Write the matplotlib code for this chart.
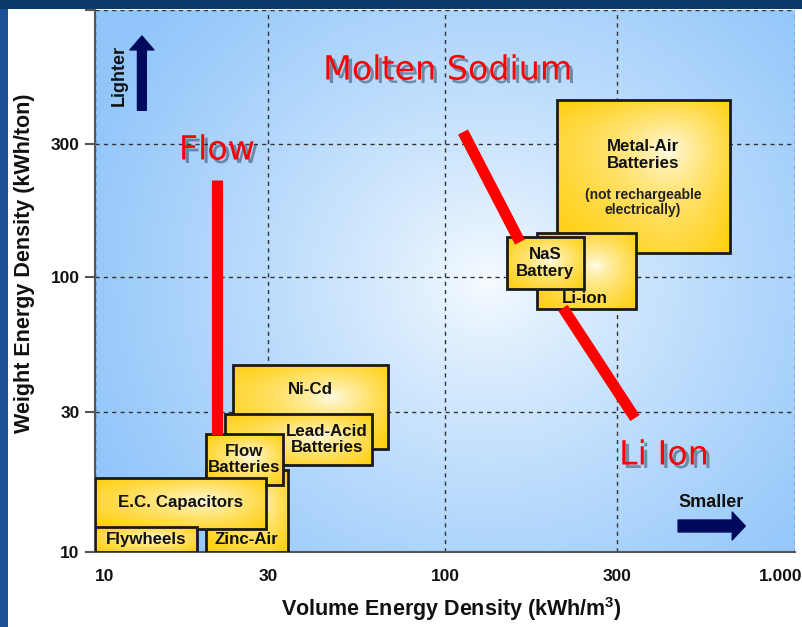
import numpy as np
import matplotlib.pyplot as plt
import matplotlib.patheffects as pe
import matplotlib.transforms as mtransforms
from matplotlib.patches import Rectangle

plt.rcParams['mathtext.fontset'] = 'custom'
plt.rcParams['mathtext.rm'] = 'Liberation Sans:bold'
plt.rcParams['mathtext.default'] = 'rm'

# boxes: volume (kWh/m3) range and weight (kWh/ton) range
box_labels = ['Metal-Air\nBatteries', 'Li-ion', 'NaS\nBattery', 'Ni-Cd',
              'Lead-Acid\nBatteries', 'Zinc-Air', 'Flow\nBatteries',
              'E.C. Capacitors', 'Flywheels']
vol_lo = [204.5, 179.9, 148.6, 24.0, 22.8, 20.2, 20.2, 10, 10]
vol_hi = [644, 341, 243, 67.9, 60.9, 34.4, 33.2, 29.6, 19.1]
wt_lo = [121.9, 75.2, 89.9, 22.4, 19.8, 10, 16.9, 12.0, 10]
wt_hi = [445.4, 143.8, 139.2, 45.6, 29.5, 19.0, 25.2, 17.9, 12.2]
label_x = [357.6, 244.5, 189.4, 39.9, 44.8, 26.2, 25.8, 17.2, 13.8]
label_y = [274, 82.2, 112.2, 36.5, 24.1, 11.0, 20.6, 14.7, 11.0]

metal_air_note = '(not rechargeable\nelectrically)'
note_x, note_y = 357.6, 185

# red highlight lines
flow_x = [21.7, 21.7]
flow_y = [222.8, 25.0]
sodium_x = [112.2, 161.4]
sodium_y = [334, 133.5]
liion_x = [212.4, 338.8]
liion_y = [75.9, 28.6]

red_texts = ['Flow', 'Molten Sodium', 'Li Ion']
red_text_x = [21.7, 101.9, 412]
red_text_y = [285.4, 583, 21.4]

xticks = [10, 30, 100, 300, 1000]
xtick_labels = ['10', '30', '100', '300', '1.000']
yticks = [10, 30, 100, 300, 1000]
ytick_labels = ['10', '30', '100', '300', '']

# the original axes space the ticks almost evenly, not in true log steps
x_knots_log = [1, 1.477, 2, 2.477, 3]
x_knots_pos = [0, 173, 350, 522, 700]
y_knots_log = [1, 1.477, 2, 2.477, 3]
y_knots_pos = [0, 140, 275, 408, 542]


def make_scale(logs, pos):
    lo_slope = (pos[1] - pos[0]) / (logs[1] - logs[0])
    hi_slope = (pos[-1] - pos[-2]) / (logs[-1] - logs[-2])
    lg = [logs[0] - 20] + logs + [logs[-1] + 20]
    ps = [pos[0] - 20 * lo_slope] + pos + [pos[-1] + 20 * hi_slope]

    def fwd(v):
        v = np.clip(np.asarray(v, dtype=float), 1e-20, None)
        return np.interp(np.log10(v), lg, ps)

    def inv(p):
        return 10 ** np.interp(np.asarray(p, dtype=float), ps, lg)

    return fwd, inv


def radial(edge, center, n=200, cx=0.5, cy=0.5, rx=0.5, ry=0.5, power=1.0):
    yy, xx = np.mgrid[0:1:n * 1j, 0:1:n * 1j]
    r = np.sqrt(((xx - cx) / rx) ** 2 + ((yy - cy) / ry) ** 2)
    t = np.clip(r, 0, 1) ** power
    edge = np.array(edge) / 255.0
    center = np.array(center) / 255.0
    return center * (1 - t[..., None]) + edge * t[..., None]


fig = plt.figure(figsize=(8.02, 6.27), dpi=100, facecolor='white')
fig.patches.append(Rectangle((0, 0), 8 / 802, 1, transform=fig.transFigure,
                             facecolor='#1c4f93', edgecolor='none', zorder=-5))
fig.patches.append(Rectangle((0, 618 / 627), 1, 9 / 627, transform=fig.transFigure,
                             facecolor='#0c3a6b', edgecolor='none', zorder=-5))

ax = fig.add_axes([95 / 802, 75 / 627, 700 / 802, 542 / 627])
ax.set_xscale('function', functions=make_scale(x_knots_log, x_knots_pos))
ax.set_yscale('function', functions=make_scale(y_knots_log, y_knots_pos))
ax.set_xlim(10, 1000)
ax.set_ylim(10, 1000)

# blue background with light centre
bg = radial((146, 198, 250), (248, 252, 255), cx=0.56, cy=0.5, rx=0.62, ry=0.75, power=0.8)
ax.imshow(bg, extent=[0, 1, 0, 1], transform=ax.transAxes, origin='lower',
          aspect='auto', zorder=0, interpolation='bilinear')

ax.grid(True, which='major', color='#333333', linestyle=(0, (3, 3)), linewidth=1, zorder=1)
ax.set_axisbelow(True)

box_img = radial((255, 204, 0), (255, 253, 240), cx=0.5, cy=0.5, rx=0.75, ry=0.75, power=0.7)
for i in range(len(box_labels)):
    z = 3 + i
    rect = Rectangle((vol_lo[i], wt_lo[i]), vol_hi[i] - vol_lo[i], wt_hi[i] - wt_lo[i],
                     facecolor='none', edgecolor='#1a1a1a', linewidth=2, zorder=z + 0.5)
    ax.add_patch(rect)
    im = ax.imshow(box_img, extent=[vol_lo[i], vol_hi[i], wt_lo[i], wt_hi[i]],
                   origin='lower', aspect='auto', zorder=z, interpolation='bilinear')
    im.set_clip_path(rect)
    ax.text(label_x[i], label_y[i], box_labels[i], ha='center', va='center',
            fontsize=12.2, fontweight='bold', family='Liberation Sans',
            color='#111111', zorder=z + 0.6, linespacing=1.1)

ax.text(note_x, note_y, metal_air_note, ha='center', va='center', fontsize=10,
        fontweight='bold', family='Liberation Sans', color='#222222', zorder=4, linespacing=1.1)

for xs, ys in [(flow_x, flow_y), (sodium_x, sodium_y), (liion_x, liion_y)]:
    ax.plot(xs, ys, color='#ff0000', linewidth=8, solid_capstyle='butt', zorder=20)

shadow = [pe.withSimplePatchShadow(offset=(2.5, -2.5), shadow_rgbFace='#1a2a40', alpha=0.45)]
for t, x, y in zip(red_texts, red_text_x, red_text_y):
    ax.text(x, y, t, ha='center', va='center', fontsize=24, color='#ff0000',
            family='DejaVu Sans', zorder=21, path_effects=shadow)

# direction hints
navy = '#000a5c'
ax.text(0.034, 0.88, 'Lighter', rotation=90, ha='center', va='center', fontsize=13,
        fontweight='bold', family='Liberation Sans', color='#111111', transform=ax.transAxes)
ax.annotate('', xy=(0.067, 0.952), xytext=(0.067, 0.815), xycoords='axes fraction',
            arrowprops=dict(arrowstyle='simple,head_width=0.86,head_length=0.5,tail_width=0.32',
                            color=navy, mutation_scale=20, shrinkA=0, shrinkB=0), zorder=22)
ax.text(0.88, 0.092, 'Smaller', ha='center', va='center', fontsize=13,
        fontweight='bold', family='Liberation Sans', color='#111111', transform=ax.transAxes)
ax.annotate('', xy=(0.929, 0.048), xytext=(0.833, 0.048), xycoords='axes fraction',
            arrowprops=dict(arrowstyle='simple,head_width=1.0,head_length=0.47,tail_width=0.43',
                            color=navy, mutation_scale=20, shrinkA=0, shrinkB=0), zorder=22)

# axes
ax.set_xticks(xticks)
ax.set_xticklabels(xtick_labels)
ax.set_yticks(yticks)
ax.set_yticklabels(ytick_labels)
ax.minorticks_off()
ax.tick_params(axis='x', length=0, pad=12)
ax.tick_params(axis='y', length=7, width=1.5, color='#555555', pad=4)
for lab in ax.get_xticklabels() + ax.get_yticklabels():
    lab.set_fontweight('bold')
    lab.set_fontsize(12.5)
    lab.set_family('Liberation Sans')
    lab.set_color('#111111')
xlabs = ax.get_xticklabels()
xlabs[0].set_horizontalalignment('left')
xlabs[-1].set_horizontalalignment('right')
xlabs[-1].set_transform(xlabs[-1].get_transform() +
                        mtransforms.ScaledTranslation(7 / 100, 0, fig.dpi_scale_trans))

for s in ['top', 'right']:
    ax.spines[s].set_visible(False)
for s in ['left', 'bottom']:
    ax.spines[s].set_color('#555555')
    ax.spines[s].set_linewidth(1.5)

ax.set_xlabel('Volume Energy Density (kWh/m$^3$)', fontsize=15.5, fontweight='bold',
              family='Liberation Sans', color='#111111')
ax.xaxis.set_label_coords(0.509, -0.105)
ax.xaxis.label.set_verticalalignment('center')
ax.set_ylabel('Weight Energy Density (kWh/ton)', fontsize=15.5, fontweight='bold',
              family='Liberation Sans', color='#111111')
ax.yaxis.set_label_coords(-0.1, 0.533)
ax.yaxis.label.set_verticalalignment('center')

fig.savefig('out.png', dpi=100, facecolor=fig.get_facecolor())
